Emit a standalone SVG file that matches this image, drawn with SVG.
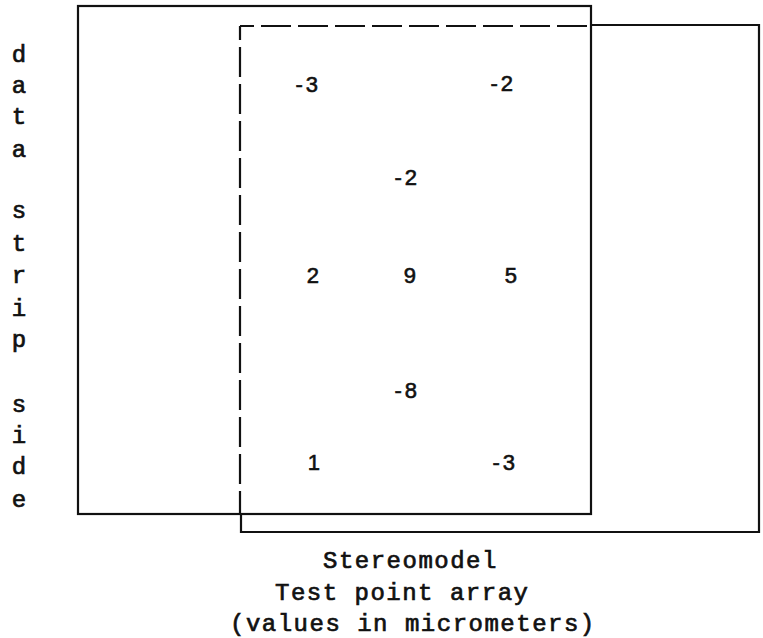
<svg xmlns="http://www.w3.org/2000/svg" width="763" height="638" viewBox="0 0 763 638">
<style>
.line{fill:none;stroke:#111;stroke-width:2.2}
.dash{fill:none;stroke:#111;stroke-width:2.2;stroke-dasharray:30 7;stroke-dashoffset:16}
.mono{font-family:"Liberation Mono","Courier New",monospace;font-size:24px;fill:#111;stroke:#111;stroke-width:0.7}
.side{text-anchor:middle}
.num{font-family:"Liberation Sans",Arial,sans-serif;font-size:22px;fill:#111;text-anchor:end;stroke:#111;stroke-width:0.6}
</style>
<rect width="763" height="638" fill="#fff"/>
<g id="data-strip">
<rect class="line" x="78" y="6" width="513" height="508"/>
</g>
<g id="stereomodel">
<path class="dash" d="M240,26 H591"/>
<path class="dash" d="M240,26 V514"/>
<path class="line" d="M591,25 H759 V532 H241 V514"/>
</g>
<g id="side-label" class="mono side">
<text x="19" y="62">d</text>
<text x="19" y="93">a</text>
<text x="19" y="124">t</text>
<text x="19" y="157">a</text>
<text x="19" y="218">s</text>
<text x="19" y="251">t</text>
<text x="19" y="283">r</text>
<text x="19" y="316">i</text>
<text x="19" y="347">p</text>
<text x="19" y="412">s</text>
<text x="19" y="443">i</text>
<text x="19" y="474">d</text>
<text x="19" y="507">e</text>
</g>
<g id="values" class="num">
<text x="318" y="92">-<tspan dx="3">3</tspan></text>
<text x="513" y="91">-<tspan dx="3">2</tspan></text>
<text x="417" y="185">-<tspan dx="3">2</tspan></text>
<text x="319" y="283">2</text>
<text x="416" y="283">9</text>
<text x="517" y="283">5</text>
<text x="417" y="398">-<tspan dx="3">8</tspan></text>
<text x="320" y="470">1</text>
<text x="515" y="470">-<tspan dx="3">3</tspan></text>
</g>
<g id="caption" class="mono" style="letter-spacing:1.5px">
<text x="323" y="568">Stereomodel</text>
<text x="275" y="600">Test point array</text>
<text x="230" y="631">(values in micrometers)</text>
</g>
</svg>
